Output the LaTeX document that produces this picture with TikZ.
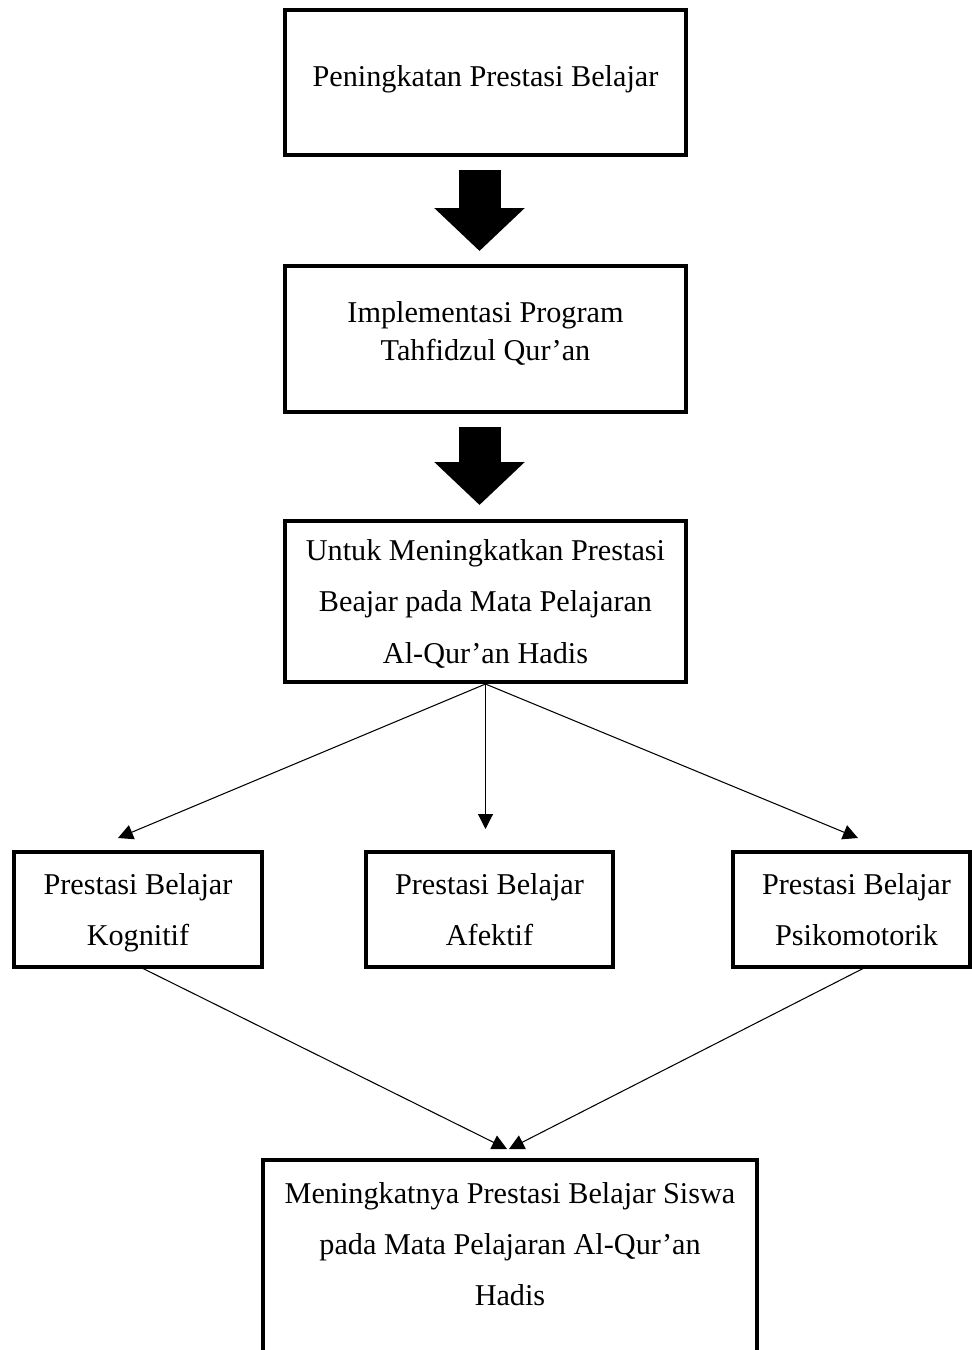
\documentclass[tikz,border=0pt]{standalone}
\usepackage{fontspec}
\setmainfont{Liberation Serif}
\usetikzlibrary{arrows.meta}
\begin{document}
\begin{tikzpicture}[x=0.02cm,y=-0.02cm,line join=miter,
  txt/.style={align=center,inner sep=0pt,text depth=0pt,font=\fontsize{17.2}{29.3}\selectfont},
  box/.style={txt,draw,line width=2.3pt},
  bigarrow/.style={line width=0.84cm,-{Triangle[width=1.76cm,length=0.86cm]}},
  thin/.style={line width=0.6pt,-{Triangle[width=0.3cm,length=0.3cm]}}]
  \useasboundingbox (0,0) rectangle (972,1350);
  % top column
  \node[box,minimum width=8.02cm,minimum height=2.9cm,text depth=7.2pt] (b1) at (485.5,82.5) {Peningkatan Prestasi Belajar};
  \node[box,minimum width=8.02cm,minimum height=2.92cm,text depth=9.5pt,font=\fontsize{17.2}{21.6}\selectfont] (b2) at (485.5,339) {Implementasi Program\\Tahfidzul Qur’an};
  \node[box,minimum width=8.02cm,minimum height=3.22cm] (b3) at (485.5,601.5) {Untuk Meningkatkan Prestasi\\Beajar pada Mata Pelajaran\\Al-Qur’an Hadis};
  \draw[bigarrow,shorten <=0.26cm,shorten >=0.26cm] ([xshift=-0.12cm]b1.south) -- ([xshift=-0.12cm]b2.north);
  \draw[bigarrow,shorten <=0.26cm,shorten >=0.28cm] ([xshift=-0.12cm]b2.south) -- ([xshift=-0.12cm]b3.north);
  % three kinds
  \node[box,minimum width=4.96cm,minimum height=2.3cm] (b4) at (138,909.5) {Prestasi Belajar\\Kognitif};
  \node[box,minimum width=4.94cm,minimum height=2.3cm] (b5) at (489.5,909.5) {Prestasi Belajar\\Afektif};
  \node[box,minimum width=4.74cm,minimum height=2.3cm] (b6) at (851.5,909.5) {\hspace*{0.2cm}Prestasi Belajar\\\hspace*{0.2cm}Psikomotorik};
  \coordinate (t4) at (118,838);
  \coordinate (t5) at (b3.south |- 0,829);
  \coordinate (t6) at (858,838);
  \draw[thin] (b3.south) -- (t4);
  \draw[thin] (b3.south) -- (t5);
  \draw[thin] (b3.south) -- (t6);
  % result
  \node[txt,minimum width=9.88cm] (b7) at (510,1244) {Meningkatnya Prestasi Belajar Siswa\\pada Mata Pelajaran Al-Qur’an\\Hadis};
  \draw[line width=2.3pt] (b7.west |- 0,1400) -- (b7.west |- 0,1160) -- (b7.east |- 0,1160) -- (b7.east |- 0,1400);
  \coordinate (s4) at (140,967);
  \coordinate (s6) at (866,967);
  \coordinate (e4) at (507,1149);
  \coordinate (e6) at (509,1149);
  \draw[thin] (s4) -- (e4);
  \draw[thin] (s6) -- (e6);
\end{tikzpicture}
\end{document}
